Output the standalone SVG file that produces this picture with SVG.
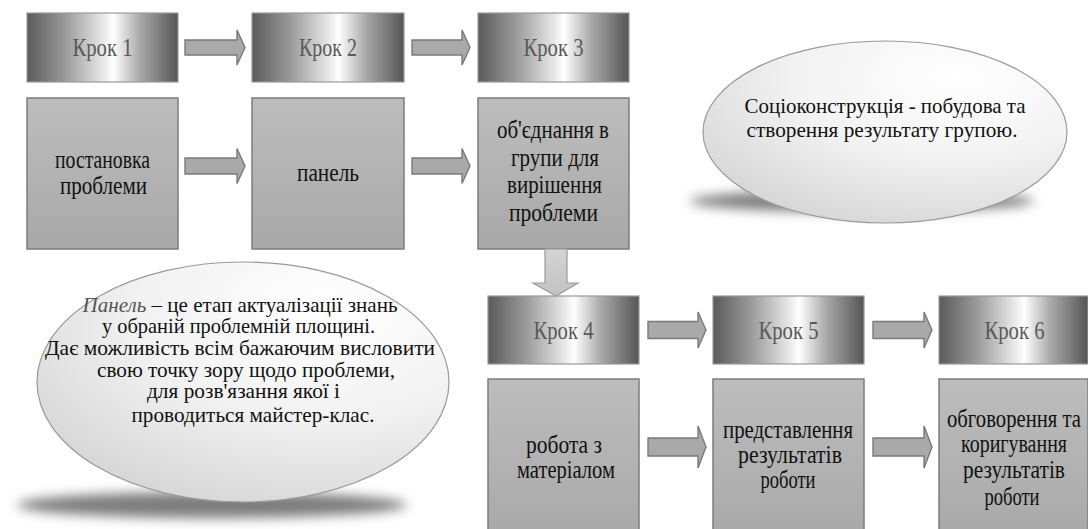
<svg xmlns="http://www.w3.org/2000/svg" width="1088" height="529" viewBox="0 0 1088 529">
<style>
.step{stroke:#9a9a9a;stroke-width:1.2;fill:url(#metal)}
.box{stroke:#7c7c7c;stroke-width:1.5;fill:url(#boxg)}
.st{font-family:'Liberation Serif','Times New Roman',serif;font-size:25px;fill:#5a5a5a;text-anchor:middle}
.bt{font-family:'Liberation Serif','Times New Roman',serif;font-size:25px;fill:#111;text-anchor:middle}
.et{font-family:'Liberation Serif','Times New Roman',serif;font-size:21px;fill:#111;text-anchor:middle}
.arr{fill:#a9a9a9;stroke:#7a7a7a;stroke-width:1.4;stroke-linejoin:miter}
.darr{fill:url(#downg);stroke:#9c9c9c;stroke-width:1.2}
.ell{fill:url(#ellg);stroke:#9a9a9a;stroke-width:1.2}
.shadow{fill:#7d7d7d;filter:url(#blur)}
</style>
<defs>
<linearGradient id="metal" x1="0" y1="0" x2="1" y2="0">
<stop offset="0" stop-color="#5a5a5a"/>
<stop offset="0.25" stop-color="#999"/>
<stop offset="0.5" stop-color="#e6e6e6"/>
<stop offset="0.57" stop-color="#ffffff"/>
<stop offset="0.75" stop-color="#a8a8a8"/>
<stop offset="1" stop-color="#555"/>
</linearGradient>
<linearGradient id="boxg" x1="0" y1="0" x2="0" y2="1">
<stop offset="0" stop-color="#bdbdbd"/>
<stop offset="1" stop-color="#a8a8a8"/>
</linearGradient>
<linearGradient id="downg" x1="0" y1="0" x2="0" y2="1">
<stop offset="0" stop-color="#d4d4d4"/>
<stop offset="1" stop-color="#c2c2c2"/>
</linearGradient>
<radialGradient id="ellg" cx="0.7" cy="0.2" r="0.9">
<stop offset="0" stop-color="#ffffff"/>
<stop offset="0.5" stop-color="#f2f2f2"/>
<stop offset="1" stop-color="#d4d4d4"/>
</radialGradient>
<filter id="blur" x="-0.2" y="-1" width="1.4" height="3">
<feGaussianBlur stdDeviation="6"/>
</filter>
</defs>

<g id="shadows">
<ellipse class="shadow" cx="862" cy="201" rx="172" ry="11"/>
<ellipse class="shadow" cx="212" cy="505" rx="195" ry="13"/>
</g>

<g id="note-socio">
<ellipse class="ell" cx="885" cy="132" rx="182" ry="91"/>
<text class="et" x="885" y="113" textLength="281" lengthAdjust="spacingAndGlyphs">Соціоконструкція - побудова та</text>
<text class="et" x="882" y="137" textLength="271" lengthAdjust="spacingAndGlyphs">створення результату групою.</text>
</g>

<g id="note-panel">
<ellipse class="ell" cx="243" cy="382" rx="206" ry="120"/>
<text class="et" x="240" y="312" textLength="315" lengthAdjust="spacingAndGlyphs"><tspan font-style="italic" fill="#555">Панель</tspan> – це етап актуалізації знань</text>
<text class="et" x="238.5" y="333" textLength="273" lengthAdjust="spacingAndGlyphs">у обраній проблемній площині.</text>
<text class="et" x="240" y="355" textLength="390" lengthAdjust="spacingAndGlyphs">Дає можливість всім бажаючим висловити</text>
<text class="et" x="246" y="377" textLength="298" lengthAdjust="spacingAndGlyphs">свою точку зору щодо проблеми,</text>
<text class="et" x="243.5" y="398" textLength="193" lengthAdjust="spacingAndGlyphs">для розв'язання якої і</text>
<text class="et" x="253" y="422" textLength="243" lengthAdjust="spacingAndGlyphs">проводиться майстер-клас.</text>
</g>

<g id="step1">
<rect class="step" x="27" y="13" width="151" height="69"/>
<text class="st" x="102.5" y="56" textLength="60" lengthAdjust="spacingAndGlyphs">Крок 1</text>
</g>
<g id="step2">
<rect class="step" x="252" y="13" width="152" height="69"/>
<text class="st" x="328" y="56" textLength="58" lengthAdjust="spacingAndGlyphs">Крок 2</text>
</g>
<g id="step3">
<rect class="step" x="478" y="13" width="151" height="69"/>
<text class="st" x="553.5" y="56" textLength="60" lengthAdjust="spacingAndGlyphs">Крок 3</text>
</g>
<g id="step4">
<rect class="step" x="488" y="296" width="151" height="68"/>
<text class="st" x="563.5" y="339" textLength="60" lengthAdjust="spacingAndGlyphs">Крок 4</text>
</g>
<g id="step5">
<rect class="step" x="713" y="296" width="151" height="68"/>
<text class="st" x="788.5" y="339" textLength="60" lengthAdjust="spacingAndGlyphs">Крок 5</text>
</g>
<g id="step6">
<rect class="step" x="939" y="296" width="149" height="68"/>
<text class="st" x="1014.5" y="339" textLength="60" lengthAdjust="spacingAndGlyphs">Крок 6</text>
</g>

<g id="task1">
<rect class="box" x="27" y="98" width="151" height="151"/>
<text class="bt" x="102.5" y="168" textLength="95" lengthAdjust="spacingAndGlyphs">постановка</text>
<text class="bt" x="103.5" y="194" textLength="87" lengthAdjust="spacingAndGlyphs">проблеми</text>
</g>
<g id="task2">
<rect class="box" x="252" y="98" width="152" height="151"/>
<text class="bt" x="328" y="181" textLength="62" lengthAdjust="spacingAndGlyphs">панель</text>
</g>
<g id="task3">
<rect class="box" x="478" y="98" width="151" height="151"/>
<text class="bt" x="553" y="138" textLength="112" lengthAdjust="spacingAndGlyphs">об'єднання в</text>
<text class="bt" x="555" y="166" textLength="88" lengthAdjust="spacingAndGlyphs">групи для</text>
<text class="bt" x="554.5" y="193" textLength="95" lengthAdjust="spacingAndGlyphs">вирішення</text>
<text class="bt" x="553.5" y="221" textLength="89" lengthAdjust="spacingAndGlyphs">проблеми</text>
</g>
<g id="task4">
<rect class="box" x="488" y="379" width="151" height="162"/>
<text class="bt" x="564" y="453" textLength="76" lengthAdjust="spacingAndGlyphs">робота з</text>
<text class="bt" x="566" y="478" textLength="98" lengthAdjust="spacingAndGlyphs">матеріалом</text>
</g>
<g id="task5">
<rect class="box" x="713" y="379" width="151" height="162"/>
<text class="bt" x="788" y="438" textLength="130" lengthAdjust="spacingAndGlyphs">представлення</text>
<text class="bt" x="790" y="463" textLength="104" lengthAdjust="spacingAndGlyphs">результатів</text>
<text class="bt" x="788" y="488" textLength="55" lengthAdjust="spacingAndGlyphs">роботи</text>
</g>
<g id="task6">
<rect class="box" x="939" y="379" width="149" height="162"/>
<text class="bt" x="1014" y="427" textLength="134" lengthAdjust="spacingAndGlyphs">обговорення та</text>
<text class="bt" x="1014" y="452" textLength="106" lengthAdjust="spacingAndGlyphs">коригування</text>
<text class="bt" x="1014" y="478" textLength="102" lengthAdjust="spacingAndGlyphs">результатів</text>
<text class="bt" x="1012" y="505" textLength="55" lengthAdjust="spacingAndGlyphs">роботи</text>
</g>

<g id="connectors">
<path class="arr" d="M185,40 H237 V30 L245,47.5 L237,65 V55 H185 Z"/>
<path class="arr" d="M412,40 H462 V30 L470,47.5 L462,65 V55 H412 Z"/>
<path class="arr" d="M185,158 H237 V148.5 L245,166 L237,183.5 V174 H185 Z"/>
<path class="arr" d="M412,158 H462 V148.5 L470,166 L462,183.5 V174 H412 Z"/>
<path class="darr" d="M545,249 H567 V283 H578 L556,296 L533,283 H545 Z"/>
<path class="arr" d="M648,321.5 H698 V312 L706,330 L698,348 V338.5 H648 Z"/>
<path class="arr" d="M873,321.5 H924 V312 L932,330 L924,348 V338.5 H873 Z"/>
<path class="arr" d="M648,438 H698 V426 L706,447 L698,468 V456 H648 Z"/>
<path class="arr" d="M873,438 H924 V426 L932,447 L924,468 V456 H873 Z"/>
</g>
</svg>
